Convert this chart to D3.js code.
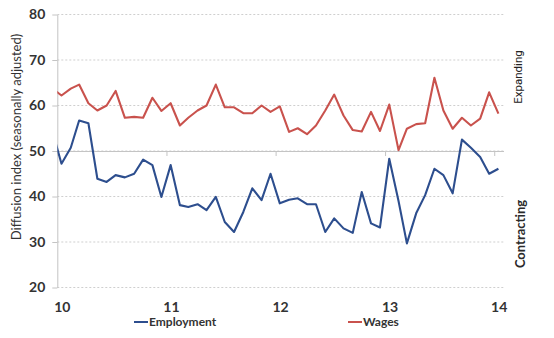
<!DOCTYPE html>
<html><head><meta charset="utf-8">
<script src="https://cdn.jsdelivr.net/npm/d3@7"></script>
<style>body{margin:0;background:#fff} svg{display:block}</style>
</head><body><svg id="c" width="554" height="338"></svg>
<script>
// ---- data (monthly, Dec 2009 .. Jan 2014) ----
const firstMonth = "2009-12";
const employment = [54.5,
  47.2, 50.7, 56.7, 56.1, 43.9, 43.2, 44.7, 44.2, 45.0, 48.1, 46.9, 39.9,
  46.9, 38.1, 37.7, 38.3, 37.0, 39.9, 34.4, 32.2, 36.6, 41.8, 39.2, 45.0,
  38.5, 39.3, 39.6, 38.3, 38.3, 32.2, 35.2, 33.0, 32.0, 41.0, 34.1, 33.2,
  48.3, 39.0, 29.7, 36.3, 40.3, 46.1, 44.7, 40.7, 52.5, 50.7, 48.7, 45.0,
  46.1];
const wages = [63.8,
  62.2, 63.7, 64.6, 60.5, 58.9, 60.0, 63.2, 57.3, 57.5, 57.3, 61.7, 58.8,
  60.5, 55.6, 57.3, 58.9, 60.0, 64.6, 59.6, 59.6, 58.3, 58.3, 60.0, 58.6,
  59.8, 54.2, 55.0, 53.7, 55.6, 58.9, 62.4, 57.8, 54.6, 54.3, 58.6, 54.4,
  60.2, 50.2, 54.9, 55.9, 56.1, 66.1, 58.9, 54.9, 57.3, 55.6, 57.1, 62.9,
  58.2];
const yTicks = [20, 30, 40, 50, 60, 70, 80];
const yearTicks = ["2010", "2011", "2012", "2013", "2014"];
const yearLabels = ["10", "11", "12", "13", "14"];
const seriesNames = ["Employment", "Wages"];
const colors = ["#2D4E8E", "#C9524D"];
const yTitle = "Diffusion index (seasonally adjusted)";
const sideLabels = ["Expanding", "Contracting"];

// ---- scales ----
const svg = d3.select("#c");
const parseM = d3.timeParse("%Y-%m");
const m0 = parseM(firstMonth);
const dates = employment.map((_, i) => d3.timeDay.offset(d3.timeMonth.offset(m0, i), 14));
const x = d3.scaleTime().domain([new Date(2010,0,1), new Date(2014,1,1)]).range([57.3, 503.5]);
const y = d3.scaleLinear().domain([20, 80]).range([287.5, 14.5]);
const tickDates = yearTicks.map(s => d3.timeParse("%Y")(s));

const font = "Lato, 'Open Sans', sans-serif";
const txt = "#333333";

// gridlines
svg.append("g").selectAll("line").data(yTicks).join("line")
  .attr("x1", x.range()[0]).attr("x2", x.range()[1])
  .attr("y1", d => y(d)).attr("y2", d => y(d))
  .attr("stroke", "#cfcfcf").attr("stroke-width", 1).attr("stroke-dasharray", "2,2");

// y axis
const yAxis = svg.append("g").attr("transform", `translate(${x.range()[0]},0)`)
  .call(d3.axisLeft(y).tickValues(yTicks).tickSize(5).tickSizeOuter(0).tickPadding(7).tickFormat(d3.format("d")));
yAxis.select(".domain").attr("stroke", "#c4c4c4");
yAxis.selectAll(".tick line").attr("stroke", "#c4c4c4");
yAxis.selectAll(".tick text").attr("fill", txt).attr("font-family", font)
  .attr("font-weight", "bold").attr("font-size", 14);

// x axis crossing at 50
const xAxis = svg.append("g").attr("transform", `translate(0,${y(50)})`)
  .call(d3.axisBottom(x).tickValues(tickDates).tickSize(5).tickSizeOuter(0).tickFormat(""));
xAxis.select(".domain").attr("stroke", "#c4c4c4");
xAxis.selectAll(".tick line").attr("stroke", "#c4c4c4");

// x labels at bottom
svg.append("g").selectAll("text").data(tickDates).join("text")
  .attr("x", d => x(d) + 5).attr("y", 312)
  .attr("text-anchor", "middle").attr("fill", txt).attr("font-family", font)
  .attr("font-weight", "bold").attr("font-size", 14)
  .text((d, i) => yearLabels[i]);

// clip
svg.append("clipPath").attr("id", "clip").append("rect")
  .attr("x", x.range()[0]).attr("y", 0).attr("width", x.range()[1] - x.range()[0]).attr("height", 338);

const line = d3.line().x((d, i) => x(dates[i])).y(d => y(d));
[employment, wages].forEach((s, k) => {
  svg.append("path").datum(s).attr("clip-path", "url(#clip)")
    .attr("d", line).attr("fill", "none").attr("stroke", colors[k])
    .attr("stroke-width", 2.1).attr("stroke-linejoin", "round");
});

// y title
svg.append("text").attr("transform", "translate(21,137) rotate(-90)")
  .attr("text-anchor", "middle").attr("fill", txt).attr("font-family", font)
  .attr("font-size", 13).text(yTitle);

// side labels
svg.append("text").attr("transform", "translate(522,77) rotate(-90)")
  .attr("text-anchor", "middle").attr("fill", "#222").attr("font-family", "Roboto, 'Open Sans', sans-serif")
  .attr("font-size", 11.5).text(sideLabels[0]);
svg.append("text").attr("transform", "translate(525,234) rotate(-90)")
  .attr("text-anchor", "middle").attr("fill", "#2a2a2a").attr("font-family", font)
  .attr("font-weight", "bold").attr("font-size", 13).text(sideLabels[1]);

// legend
const legX = [134, 348];
seriesNames.forEach((n, k) => {
  svg.append("line").attr("x1", legX[k]).attr("x2", legX[k] + 14)
    .attr("y1", 322).attr("y2", 322).attr("stroke", colors[k]).attr("stroke-width", 2);
  svg.append("text").attr("x", legX[k] + 15).attr("y", 326)
    .attr("fill", txt).attr("font-family", font).attr("font-weight", "bold")
    .attr("font-size", 12).text(n);
});
</script>
</body></html>
